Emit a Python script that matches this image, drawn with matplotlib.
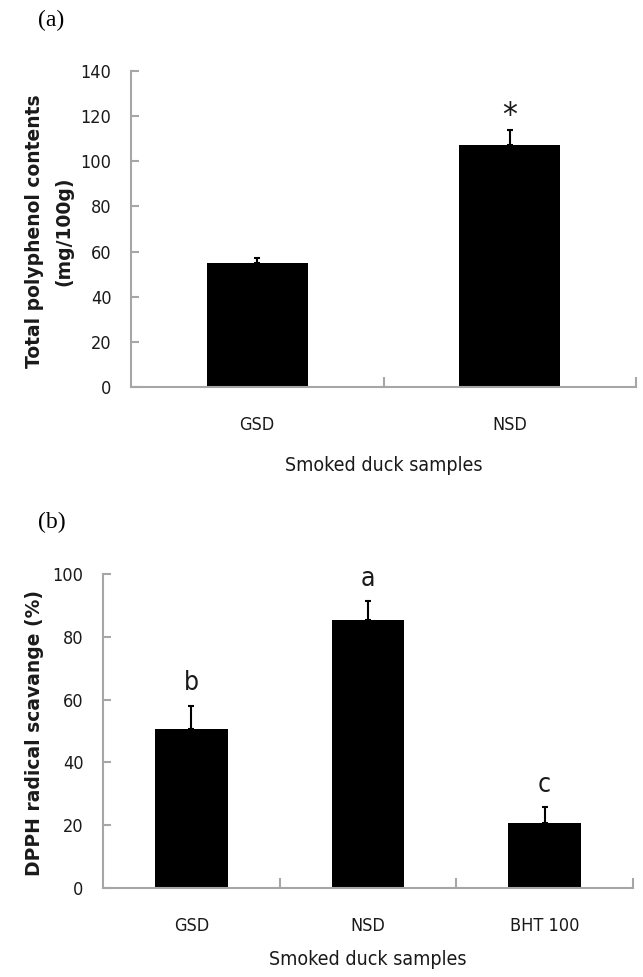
import matplotlib
matplotlib.use("Agg")
import matplotlib.pyplot as plt
import numpy as np

# ---- data ----
cats_a = ["GSD", "NSD"]
vals_a = [55.0, 107.0]
errs_a = [2.0, 7.0]
marks_a = ["", "*"]
yticks_a = [0, 20, 40, 60, 80, 100, 120, 140]

cats_b = ["GSD", "NSD", "BHT 100"]
vals_b = [50.7, 85.3, 20.7]
errs_b = [7.4, 6.1, 5.0]
marks_b = ["b", "a", "c"]
yticks_b = [0, 20, 40, 60, 80, 100]

SANS = dict(family="DejaVu Sans", stretch="condensed")
BOLD = dict(family="DejaVu Sans", fontweight="bold")
AXC = "#a6a6a6"
TXC = "#1a1a1a"

fig = plt.figure(figsize=(6.43, 9.77), dpi=100)
W, H = 643, 977

def make_axes(l, r, b, t):
    return fig.add_axes([l / W, 1 - b / H, (r - l) / W, (b - t) / H])

def style(ax, cats, ymax, yticks):
    n = len(cats)
    x = np.arange(n)
    ax.set_xlim(-0.5, n - 0.5)
    ax.set_ylim(0, ymax)
    for s in ["top", "right"]:
        ax.spines[s].set_visible(False)
    for s in ["left", "bottom"]:
        ax.spines[s].set_color(AXC)
        ax.spines[s].set_linewidth(1.5)
    ax.set_yticks(yticks)
    ax.set_yticklabels([str(v) for v in yticks], fontsize=13, color=TXC, **SANS)
    ax.tick_params(axis="y", direction="in", length=6, width=1.5, color=AXC, pad=14)
    ax.set_xticks(x)
    ax.set_xticklabels(cats, fontsize=13, color=TXC, **SANS)
    ax.tick_params(axis="x", which="major", length=0, pad=21)
    ax.set_xticks(np.arange(n) + 0.5, minor=True)
    ax.tick_params(axis="x", which="minor", direction="in", length=7, width=1.5, color=AXC)
    return x

def bars(ax, x, vals, errs, width):
    ax.bar(x, vals, width=width, color="black", zorder=2)
    ax.errorbar(x, vals, yerr=[np.zeros(len(vals)), errs], fmt="none",
                ecolor="black", elinewidth=1.5, capsize=2.5, capthick=1.5, zorder=3)

# ---- panel (a) ----
axa = make_axes(131, 636, 387, 71)
xa = style(axa, cats_a, 140, yticks_a)
bars(axa, xa, vals_a, errs_a, 0.4)
for xi, v, e, m in zip(xa, vals_a, errs_a, marks_a):
    if m:
        axa.text(xi, v + e + 6, m, ha="center", va="center", fontsize=24, color=TXC, **SANS)
axa.set_xlabel("Smoked duck samples", fontsize=14, color=TXC, labelpad=16, **SANS)
fig.text(35 / W, 1 - 231 / H, "Total polyphenol contents", rotation=90, ha="center",
         va="center", fontsize=13.5, color=TXC, **BOLD)
fig.text(64 / W, 1 - 231 / H, "(mg/100g)", rotation=90, ha="center",
         va="center", fontsize=13.5, color=TXC, **BOLD)
fig.text(51 / W, 1 - 20 / H, "(a)", ha="center", va="center",
         family=["Liberation Serif", "DejaVu Serif"], fontsize=17)

# ---- panel (b) ----
axb = make_axes(103, 633, 888, 574)
xb = style(axb, cats_b, 100, yticks_b)
bars(axb, xb, vals_b, errs_b, 0.41)
for xi, v, e, m in zip(xb, vals_b, errs_b, marks_b):
    axb.text(xi, v + e + 3, m, ha="center", va="bottom", fontsize=19, color=TXC, **SANS)
axb.set_xlabel("Smoked duck samples", fontsize=14, color=TXC, labelpad=11, **SANS)
fig.text(35 / W, 1 - 733 / H, "DPPH radical scavange (%)", rotation=90, ha="center",
         va="center", fontsize=13.5, color=TXC, **BOLD)
fig.text(52 / W, 1 - 522 / H, "(b)", ha="center", va="center",
         family=["Liberation Serif", "DejaVu Serif"], fontsize=17)

fig.savefig("out.png", dpi=100)
